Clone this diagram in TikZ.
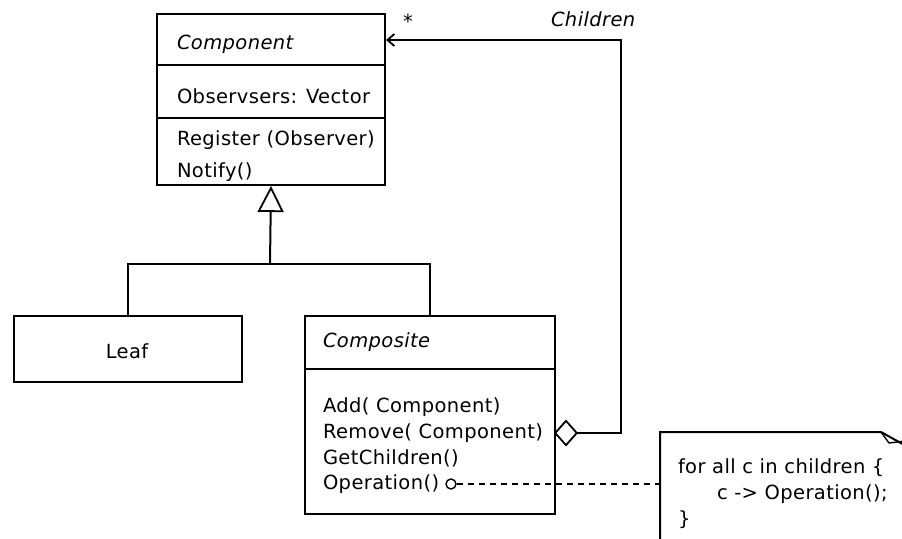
\documentclass[tikz,border=0pt]{standalone}
\usepackage{fontspec}
\setmainfont{DejaVu Sans}[LetterSpace=2]
\usetikzlibrary{arrows.meta}
\begin{document}
\begin{tikzpicture}[x=1pt,y=-1pt,
  line width=2pt,
  classbox/.style={draw, rectangle, inner sep=0pt, anchor=north west},
  lbl/.style={inner sep=0pt, anchor=base west, font=\fontsize{19.5}{22}\selectfont},
  ilbl/.style={lbl, font=\fontsize{19.5}{22}\selectfont\itshape},
  inherit/.style={-{Triangle[open,length=26pt,width=26pt,line width=1.8pt]}},
  aggregate/.style={{Diamond[open,length=24pt,width=27pt,line width=1.8pt]}-{Straight Barb[length=7pt,width=12pt,line width=1.8pt]}},
  depend/.style={dash pattern=on 6pt off 5pt, line width=1.5pt}]
\useasboundingbox (0,0) rectangle (902,538);
\clip (0,0) rectangle (902,538);

% Component class
\node[classbox, minimum width=228pt, minimum height=171pt] (component) at (156,13) {};
\draw (156,65) -- (384,65);
\draw (156,118) -- (384,118);
\node[ilbl] (compname) at (176,49) {Component};
\node[lbl] (compattr) at (176,103) {Observsers: Vector};
\node[lbl] (compreg) at (176,145) {Register (Observer)};
\node[lbl] (compnot) at (176,177) {Notify()};

% Leaf class
\node[classbox, minimum width=228pt, minimum height=66pt] (leaf) at (13,315) {};
\node[lbl, anchor=base] (leafname) at (127,358) {Leaf};

% Composite class
\node[classbox, minimum width=250pt, minimum height=198pt] (composite) at (304,315) {};
\draw (304,369) -- (554,369);
\node[ilbl] (cmpname) at (322,347) {Composite};
\node[lbl] (cmpadd) at (322,412) {Add( Component)};
\node[lbl] (cmprem) at (322,438) {Remove( Component)};
\node[lbl] (cmpget) at (322,464) {GetChildren()};
\node[lbl] (cmpop) at (322,489) {Operation()};
\node[draw, circle, minimum size=10pt, inner sep=0pt, line width=1.4pt] (opdot) at (451,484) {};

% Generalization
\coordinate (split) at (270,264);
\draw (leaf.north) |- (split) -| (composite.north);
\draw[inherit] (split) -- (component.south);

% Aggregation of children
\coordinate (agg) at (554,433);
\coordinate (ret) at (621,40);
\draw[aggregate] (agg) -| (ret) -- (component.east |- ret);
\node[lbl] (mult) at (402,28) {*};
\node[ilbl] (rolename) at (550,26) {Children};

% Note with folded corner
\node[inner sep=0pt, minimum width=250pt, minimum height=110pt, anchor=north west] (note) at (660,432) {};
\draw (660,545) -- (660,432) -- (881,432) -- (908,447) -- (908,545);
\draw[line width=1.4pt] (881,432) -- (889,443) -- (905,441);
\node[lbl] (n1) at (677,473) {for all c in children \{};
\node[lbl] (n2) at (716,499) {c -> Operation();};
\node[lbl] (n3) at (677,525) {\}};

% Dependency from Operation() to note
\draw[depend] (opdot.east) -- (note.west |- opdot);
\end{tikzpicture}
\end{document}
